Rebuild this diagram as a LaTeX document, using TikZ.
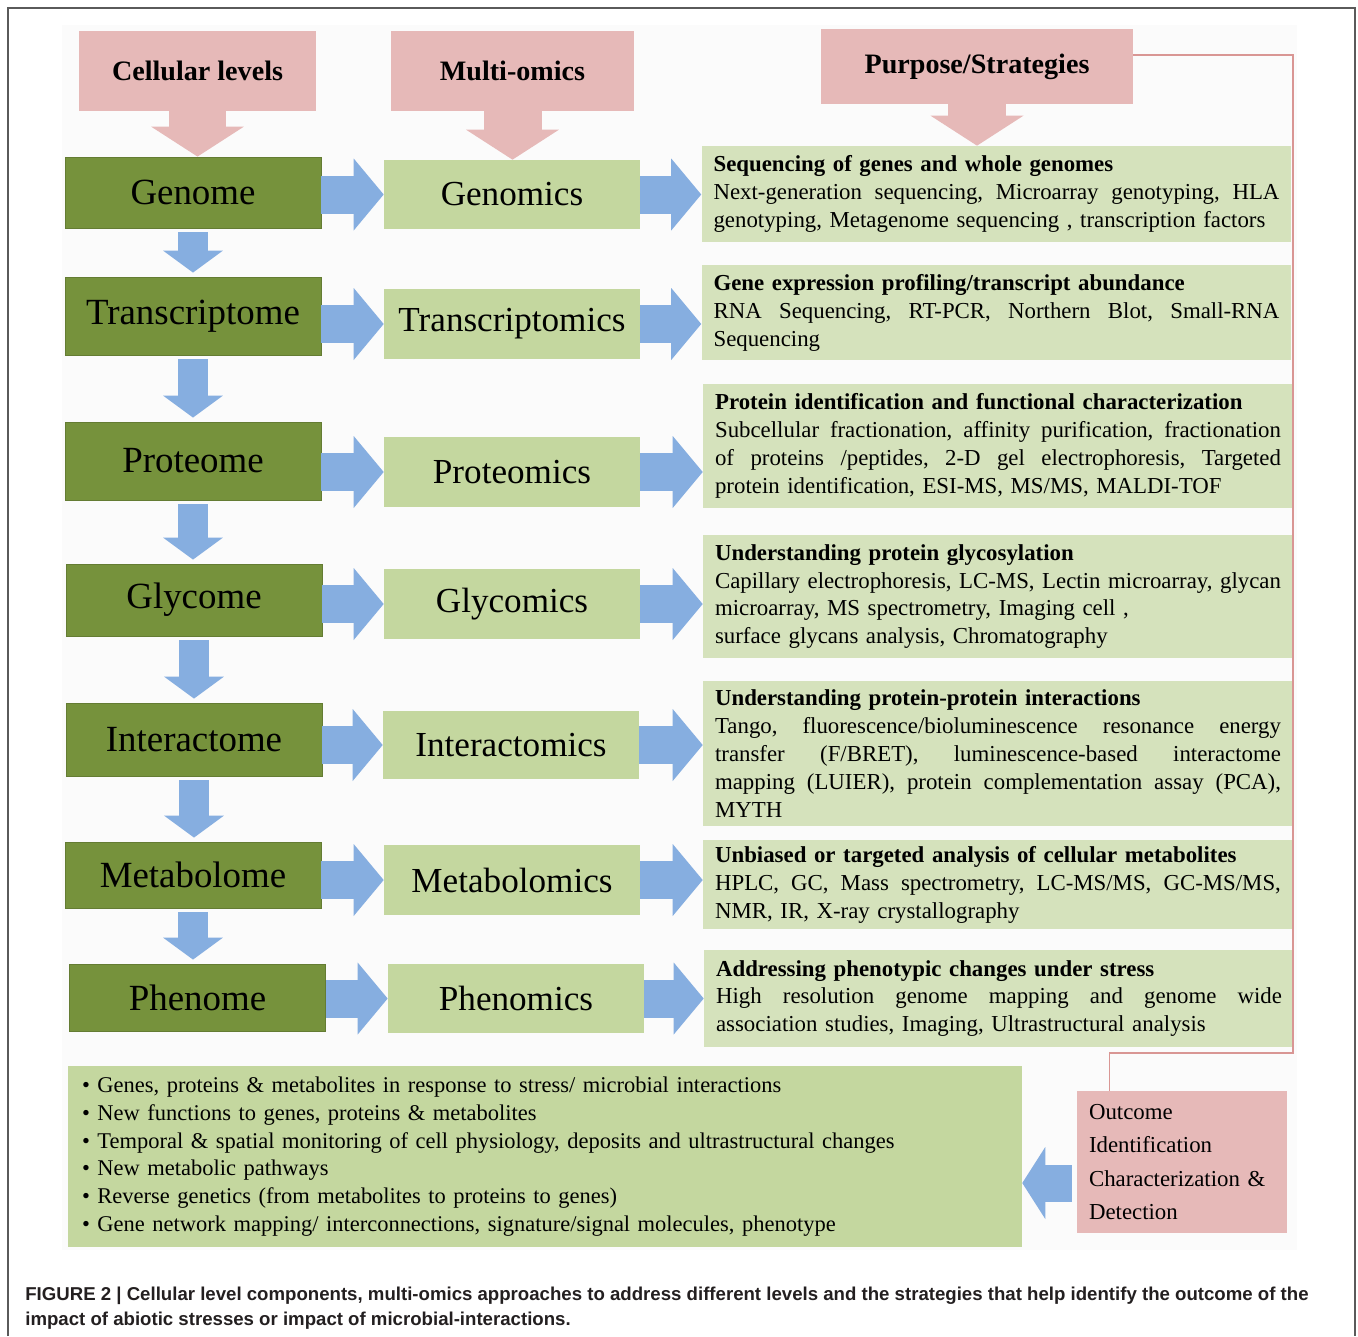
\documentclass[tikz,border=0pt]{standalone}
\usepackage{fontspec}
\setmainfont{Liberation Serif}
\newfontfamily\capfont{Liberation Sans}
\usepackage{xcolor}
\usetikzlibrary{arrows.meta,positioning}
\definecolor{headpink}{HTML}{E6B9B8}
\definecolor{levelgreen}{HTML}{76923C}
\definecolor{omicsgreen}{HTML}{C4D79F}
\definecolor{purposegreen}{HTML}{D5E2BC}
\definecolor{arrowblue}{HTML}{86AEE0}
\definecolor{linkred}{HTML}{D99694}
\definecolor{framegray}{HTML}{5A5A5A}
\definecolor{captext}{HTML}{231F20}
\newcommand{\jline}[1]{\makebox[11.32cm][s]{\frenchspacing\spaceskip=0.25em plus 1fil\relax #1}}
\tikzset{
  headbox/.style={fill=headpink, minimum height=1.6cm, font=\bfseries\fontsize{16}{19}\selectfont},
  levelbox/.style={fill=levelgreen, draw=levelgreen!85!black, line width=0.5pt, minimum width=5.12cm, font=\fontsize{21}{25}\selectfont},
  omicsbox/.style={fill=omicsgreen, minimum width=5.12cm, font=\fontsize{20}{24}\selectfont},
  purposebox/.style={fill=purposegreen, text width=11.32cm, inner xsep=0.24cm, align=left, font=\fontsize{13}{15.9}\selectfont},
  listbox/.style={fill=omicsgreen, text width=18.52cm, inner xsep=0.28cm, minimum height=3.62cm, align=left, font=\fontsize{12.8}{15.8}\selectfont},
  outcomebox/.style={fill=headpink, text width=3.72cm, inner xsep=0.24cm, minimum height=2.84cm, align=left, font=\fontsize{13}{18.9}\selectfont},
  bluearrow/.style={draw=arrowblue, line width=0.76cm, -{Triangle[length=0.6cm,width=1.44cm,line width=0pt]}},
  downarrow/.style={draw=arrowblue, line width=0.6cm, shorten <=0.08cm, shorten >=0.08cm, -{Triangle[length=0.44cm,width=1.2cm,line width=0pt]}},
  pinkarrow/.style={draw=headpink, line width=1.16cm, -{Triangle[length=0.6cm,width=1.86cm,line width=0pt]}},
  backarrow/.style={draw=arrowblue, line width=0.74cm, shorten <=0.1cm, -{Triangle[length=0.46cm,width=1.44cm,line width=0pt]}},
  linkline/.style={draw=linkred, line width=0.6pt},
  captionline/.style={anchor=base west, inner sep=0pt, text=captext, font=\capfont\bfseries\fontsize{10.6}{12}\selectfont}
}
\begin{document}
\begin{tikzpicture}[x=0.02cm,y=-0.02cm]
\useasboundingbox (0,0) rectangle (1358,1336);
\fill[black!1.5] (62,25) rectangle (1297,1250);
\draw[framegray, line width=0.8pt] (8,1336) -- (8,8) -- (1355,8) -- (1355,1336);
%
\node[headbox, minimum width=4.74cm] (cel) at (197.5,71) {Cellular levels};
\node[headbox, minimum width=4.86cm] (mul) at (512.5,71) {Multi-omics};
\node[headbox, minimum width=6.24cm, minimum height=1.5cm] (pur) at (977,66.5) {Purpose/Strategies};
%
\node[levelbox, minimum height=1.42cm] (gen) at (193,192.5) {Genome};
\node[levelbox, minimum height=1.56cm] (tra) at (193,316) {Transcriptome};
\node[levelbox, minimum height=1.56cm] (pro) at (193,461) {Proteome};
\node[levelbox, minimum height=1.44cm] (gly) at (194,600) {Glycome};
\node[levelbox, minimum height=1.46cm] (int) at (194,739.5) {Interactome};
\node[levelbox, minimum height=1.32cm] (met) at (193,875) {Metabolome};
\node[levelbox, minimum height=1.34cm] (phe) at (197.5,997.5) {Phenome};
%
\node[omicsbox, minimum height=1.38cm] (gnc) at (512,194.5) {Genomics};
\node[omicsbox, minimum height=1.40cm] (trc) at (512,324) {Transcriptomics};
\node[omicsbox, minimum height=1.40cm] (prc) at (512,472) {Proteomics};
\node[omicsbox, minimum height=1.40cm] (glc) at (512,604) {Glycomics};
\node[omicsbox, minimum height=1.36cm] (inc) at (511,745) {Interactomics};
\node[omicsbox, minimum height=1.40cm] (mec) at (512,880) {Metabolomics};
\node[omicsbox, minimum height=1.38cm] (phc) at (516,998.5) {Phenomics};
%
\node[purposebox, minimum height=1.92cm] (r1) at (996.5,194) {\textbf{Sequencing of genes and whole genomes}\\
  \jline{Next-generation sequencing, Microarray genotyping, HLA}\\
  genotyping, Metagenome sequencing , transcription factors};
\node[purposebox, minimum height=1.90cm] (r2) at (996.5,312.5) {\textbf{Gene expression profiling/transcript abundance}\\
  \jline{RNA Sequencing, RT-PCR, Northern Blot, Small-RNA}\\
  Sequencing};
\node[purposebox, minimum height=2.48cm] (r3) at (998,446) {\textbf{Protein identification and functional characterization}\\
  \jline{Subcellular fractionation, affinity purification, fractionation}\\
  \jline{of proteins /peptides, 2-D gel electrophoresis, Targeted}\\
  protein identification, ESI-MS, MS/MS, MALDI-TOF};
\node[purposebox, minimum height=2.46cm] (r4) at (998,596.5) {\textbf{Understanding protein glycosylation}\\
  \jline{Capillary electrophoresis, LC-MS, Lectin microarray, glycan}\\
  microarray, MS spectrometry, Imaging cell ,\\
  surface glycans analysis, Chromatography};
\node[purposebox, minimum height=2.90cm] (r5) at (998,753.5) {\textbf{Understanding protein-protein interactions}\\
  \jline{Tango, fluorescence/bioluminescence resonance energy}\\
  \jline{transfer (F/BRET), luminescence-based interactome}\\
  \jline{mapping (LUIER), protein complementation assay (PCA),}\\
  MYTH};
\node[purposebox, minimum height=1.74cm] (r6) at (998,884.5) {\textbf{Unbiased or targeted analysis of cellular metabolites}\\
  \jline{HPLC, GC, Mass spectrometry, LC-MS/MS, GC-MS/MS,}\\
  NMR, IR, X-ray crystallography};
\node[purposebox, minimum height=1.94cm] (r7) at (999,998.5) {\textbf{Addressing phenotypic changes under stress}\\
  \jline{High resolution genome mapping and genome wide}\\
  association studies, Imaging, Ultrastructural analysis};
%
\node[listbox] (list) at (545,1156.5) {\textbullet{} Genes, proteins \& metabolites in response to stress/ microbial interactions\\
  \textbullet{} New functions to genes, proteins \& metabolites\\
  \textbullet{} Temporal \& spatial monitoring of cell physiology, deposits and ultrastructural changes\\
  \textbullet{} New metabolic pathways\\
  \textbullet{} Reverse genetics (from metabolites to proteins to genes)\\
  \textbullet{} Gene network mapping/ interconnections, signature/signal molecules, phenotype};
\node[outcomebox] (outc) at (1182,1162) {Outcome\\ Identification\\ Characterization \&\\ Detection};
%
\foreach \Source/\Target in {cel/gen, mul/gnc, pur/r1}
\draw[pinkarrow] (\Source.south) -- (\Source.south |- \Target.north);
\foreach \Source/\Target in {gen/tra, tra/pro, pro/gly, gly/int, int/met, met/phe}
\draw[downarrow] (\Source.south) -- (\Source.south |- \Target.north);
\foreach \Source/\Target in {gen/gnc, tra/trc, pro/prc, gly/glc, int/inc, met/mec, phe/phc}
\draw[bluearrow] (\Target.west -| \Source.east) -- (\Target.west);
\foreach \Source/\Target in {gnc/r1, trc/r2, prc/r3, glc/r4, inc/r5, mec/r6, phc/r7}
\draw[bluearrow] (\Source.east) -- (\Source.east -| \Target.west);
%
\coordinate (oc) at ([yshift=-0.42cm]outc.west);
\draw[backarrow] (oc) -- (oc -| list.east);
\coordinate (lk) at (1293,1053);
\draw[linkline] ([yshift=0.23cm]pur.east) -| (lk) -| ([xshift=0.66cm]outc.north west);
%
\node[captionline] (cap1) at (25,1300) {FIGURE 2 | Cellular level components, multi-omics approaches to address different levels and the strategies that help identify the outcome of the};
\node[captionline] (cap2) at (25,1325) {impact of abiotic stresses or impact of microbial-interactions.};
\end{tikzpicture}
\end{document}
